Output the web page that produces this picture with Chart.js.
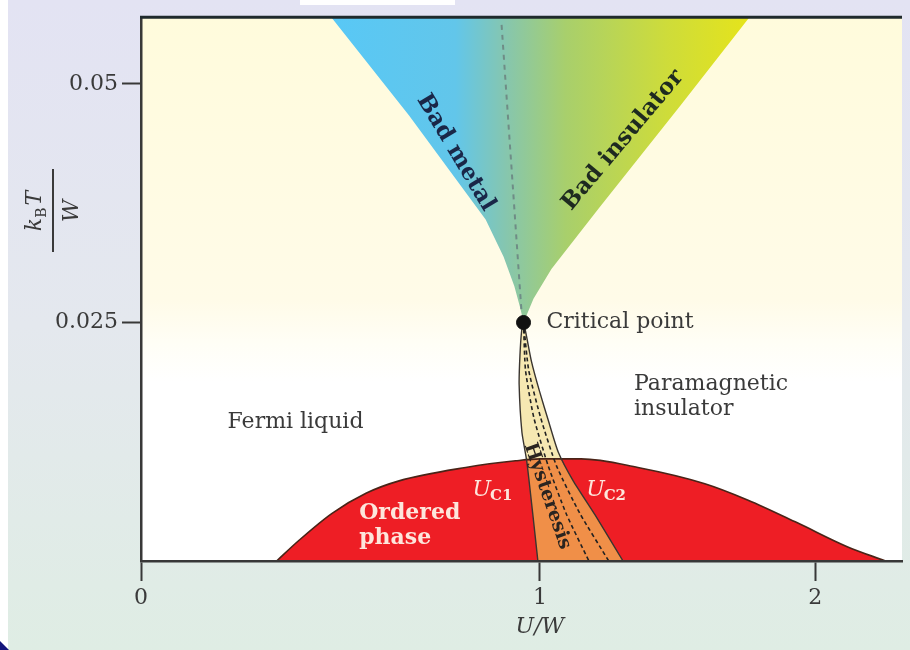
<!DOCTYPE html>
<html><head><meta charset="utf-8">
<script src="https://cdn.jsdelivr.net/npm/chart.js@4.4.1/dist/chart.umd.min.js"></script>
<style>html,body{margin:0;padding:0;background:#fff;}#wrap{width:910px;height:650px;}</style>
</head><body><div id="wrap"><canvas id="c" width="910" height="650"></canvas></div>
<script>
// ---------- DATA (U/W , kBT/W) ----------
const xTickValues = [0, 1, 2];
const xTickLabels = ['0', '1', '2'];
const yTickValues = [0.025, 0.05];
const yTickLabels = ['0.025', '0.05'];

// crossover fan above the critical point (left edge: top -> critical point)
const fanLeftU  = [0.477, 0.672, 0.864, 0.909, 0.936, 0.951, 0.959];
const fanLeftT  = [0.0570, 0.0467, 0.0358, 0.0319, 0.0288, 0.0265, 0.0250];
// right edge: critical point -> top
const fanRightU = [0.959, 0.984, 1.042, 1.212, 1.512, 1.761];
const fanRightT = [0.0250, 0.0275, 0.0306, 0.0369, 0.0478, 0.0570];
// dashed crossover line inside the fan
const widomU = [0.904, 0.954];
const widomT = [0.0562, 0.0261];

// critical point
const critU = [0.959];
const critT = [0.025];

// Uc1 spinodal (bottom -> critical point)
const uc1U = [0.995, 0.982, 0.967, 0.955, 0.948, 0.950, 0.954, 0.959];
const uc1T = [0.0, 0.0050, 0.0105, 0.0135, 0.0185, 0.0215, 0.0240, 0.0250];
// Uc2 spinodal (critical point -> bottom)
const uc2U = [0.959, 0.979, 0.999, 1.031, 1.067, 1.121, 1.201, 1.302];
const uc2T = [0.0250, 0.0209, 0.0178, 0.0147, 0.0114, 0.0084, 0.0048, 0.0];
// dashed lines inside the hysteresis band
const dashAU = [0.959, 0.964, 0.985, 1.030, 1.095, 1.178];
const dashAT = [0.025, 0.020, 0.015, 0.010, 0.005, 0.0];
const dashBU = [0.959, 0.972, 1.003, 1.060, 1.145, 1.250];
const dashBT = [0.025, 0.020, 0.015, 0.010, 0.005, 0.0];

// ordered phase dome
const domeU = [0.340, 0.397, 0.479, 0.564, 0.647, 0.814, 0.939, 1.000, 1.150, 1.356, 1.599, 1.754, 1.935, 2.116, 2.255];
const domeT = [0.0, 0.0022, 0.0050, 0.0071, 0.0084, 0.0098, 0.0105, 0.0107, 0.0107, 0.0098, 0.0081, 0.0064, 0.0040, 0.0015, 0.0];

// overlap of hysteresis band with ordered phase
const overlapU = [0.967, 0.982, 0.995, 1.302, 1.201, 1.121, 1.075, 1.000];
const overlapT = [0.0105, 0.0050, 0.0, 0.0, 0.0048, 0.0084, 0.0107, 0.0107];

// ---------- piecewise x scale (schematic axis: 0-1 wider than 1-2) ----------
const X_BREAK = 1;
const X_RATIO = 276.5 / 400.5;
class PiecewiseScale extends Chart.LinearScale {
  _warp(v) { return v <= X_BREAK ? v : X_BREAK + (v - X_BREAK) * X_RATIO; }
  _unwarp(w) { return w <= X_BREAK ? w : X_BREAK + (w - X_BREAK) / X_RATIO; }
  getPixelForValue(v) {
    const a = this._warp(this.min), b = this._warp(this.max);
    return this.getPixelForDecimal((this._warp(v) - a) / (b - a));
  }
  getValueForPixel(p) {
    const a = this._warp(this.min), b = this._warp(this.max);
    return this._unwarp(a + this.getDecimalForPixel(p) * (b - a));
  }
}
PiecewiseScale.id = 'piecewise';
PiecewiseScale.defaults = Chart.LinearScale.defaults;
Chart.register(PiecewiseScale);

const pts = (us, ts) => us.map((u, i) => ({ x: u, y: ts[i] }));

const SERIF = '"DejaVu Serif", "Liberation Serif", serif';
const TXT = '#3a3a3a';

const textLabels = [
  { text: 'Critical point', u: 1.024, t: 0.0250, font: '22px ' + SERIF, color: TXT },
  { text: 'Fermi liquid', u: 0.217, t: 0.0145, font: '22px ' + SERIF, color: TXT },
  { text: 'Paramagnetic', u: 1.342, t: 0.0185, font: '22px ' + SERIF, color: TXT },
  { text: 'insulator', u: 1.342, t: 0.0159, font: '22px ' + SERIF, color: TXT },
  { text: 'Ordered', u: 0.547, t: 0.0050, font: 'bold 22px ' + SERIF, color: '#fde6dc' },
  { text: 'phase', u: 0.547, t: 0.0024, font: 'bold 22px ' + SERIF, color: '#fde6dc' },
  { text: 'Bad metal', u: 0.789, t: 0.0428, rot: 59, align: 'center', font: 'bold 23px ' + SERIF, color: '#1a2748' },
  { text: 'Bad insulator', u: 1.302, t: 0.0441, rot: -50, align: 'center', font: 'bold 23px ' + SERIF, color: '#1e2a20' },
  { text: 'Hysteresis', u: 1.027, t: 0.0068, rot: 71, align: 'center', font: 'bold 19px ' + SERIF, color: '#2a2420' }
];
const subLabels = [
  { main: 'U', sub: 'C1', u: 0.831, t: 0.0076 },
  { main: 'U', sub: 'C2', u: 1.168, t: 0.0076 }
];

function fanGradient(context) {
  const chart = context.chart;
  const { ctx, chartArea, scales } = chart;
  if (!chartArea || !scales.x) return 'rgba(0,0,0,0)';
  const x0 = scales.x.getPixelForValue(0.47), x1 = scales.x.getPixelForValue(1.77);
  const g = ctx.createLinearGradient(x0, 0, x1, 0);
  g.addColorStop(0, '#58c8f6');
  g.addColorStop(0.3, '#62c6ea');
  g.addColorStop(0.42, '#86c6ae');
  g.addColorStop(0.56, '#a8cf6c');
  g.addColorStop(0.8, '#cedc3a');
  g.addColorStop(1, '#e6e41a');
  return g;
}

const bgPlugin = {
  id: 'bg',
  beforeDraw(chart) {
    const { ctx, width, height, chartArea: a } = chart;
    ctx.save();
    const g = ctx.createLinearGradient(0, 0, 0, height);
    g.addColorStop(0, '#e3e3f3');
    g.addColorStop(0.5, '#e4e8ee');
    g.addColorStop(1, '#dfede4');
    ctx.fillStyle = g;
    ctx.fillRect(0, 0, width, height);
    ctx.fillStyle = '#ffffff';
    ctx.fillRect(0, 0, 8, height);
    ctx.fillRect(300, 0, 155, 5);
    ctx.fillStyle = '#12157a';
    ctx.beginPath(); ctx.moveTo(0, 641); ctx.lineTo(9, 650); ctx.lineTo(0, 650); ctx.closePath(); ctx.fill();
    const pg = ctx.createLinearGradient(0, a.top, 0, a.bottom);
    pg.addColorStop(0, '#fffbdc');
    pg.addColorStop(0.52, '#fffbe8');
    pg.addColorStop(0.6, '#fffef6');
    pg.addColorStop(0.67, '#ffffff');
    pg.addColorStop(1, '#ffffff');
    ctx.fillStyle = pg;
    ctx.fillRect(a.left, a.top, a.right - a.left, a.bottom - a.top);
    ctx.restore();
  },
  afterDraw(chart) {
    const { ctx, chartArea: a } = chart;
    ctx.save();
    ctx.strokeStyle = '#1f2a2c';
    ctx.lineWidth = 3;
    ctx.beginPath(); ctx.moveTo(a.left - 1, a.top); ctx.lineTo(a.right, a.top); ctx.stroke();
    // y axis title  kBT / W
    ctx.translate(53, 211);
    ctx.rotate(-Math.PI / 2);
    ctx.fillStyle = TXT; ctx.strokeStyle = TXT;
    ctx.lineWidth = 2;
    ctx.beginPath(); ctx.moveTo(-41, 0); ctx.lineTo(42, 0); ctx.stroke();
    ctx.textBaseline = 'alphabetic';
    const fI = 'italic 22px ' + SERIF, fS = '14px ' + SERIF;
    ctx.font = fI; const wk = ctx.measureText('k').width; const wT = ctx.measureText('T').width;
    ctx.font = fS; const wB = ctx.measureText('B').width;
    const tot = wk + wB + wT + 2;
    let x0 = -tot / 2;
    ctx.textAlign = 'left';
    ctx.font = fI; ctx.fillText('k', x0, -12);
    ctx.font = fS; ctx.fillText('B', x0 + wk, -7);
    ctx.font = fI; ctx.fillText('T', x0 + wk + wB + 2, -12);
    ctx.textAlign = 'center';
    ctx.fillText('W', 0, 25);
    ctx.restore();
    // x axis title
    ctx.save();
    ctx.font = 'italic 22px ' + SERIF;
    ctx.fillStyle = TXT; ctx.textAlign = 'center'; ctx.textBaseline = 'middle';
    ctx.fillText('U/W', chart.scales.x.getPixelForValue(1), 627);
    ctx.restore();
  }
};

const labelPlugin = {
  id: 'labels',
  afterDatasetsDraw(chart) {
    const { ctx, scales: { x, y } } = chart;
    textLabels.forEach(l => {
      ctx.save();
      ctx.translate(x.getPixelForValue(l.u), y.getPixelForValue(l.t));
      ctx.rotate((l.rot || 0) * Math.PI / 180);
      ctx.font = l.font; ctx.fillStyle = l.color;
      ctx.textAlign = l.align || 'left'; ctx.textBaseline = 'middle';
      ctx.fillText(l.text, 0, 0);
      ctx.restore();
    });
    subLabels.forEach(l => {
      const px = x.getPixelForValue(l.u), py = y.getPixelForValue(l.t);
      ctx.save();
      ctx.fillStyle = '#fde6dc';
      ctx.textBaseline = 'alphabetic'; ctx.textAlign = 'left';
      ctx.font = 'italic 22px ' + SERIF;
      ctx.fillText(l.main, px, py + 8);
      const w = ctx.measureText(l.main).width;
      ctx.font = 'bold 15px ' + SERIF;
      ctx.fillText(l.sub, px + w - 1, py + 12);
      ctx.restore();
    });
  }
};

const lineBase = { showLine: true, pointRadius: 0, pointHoverRadius: 0 };
const bandU = uc1U.concat(uc2U.slice(1));
const bandT = uc1T.concat(uc2T.slice(1));

new Chart(document.getElementById('c'), {
  type: 'scatter',
  data: {
    datasets: [
      Object.assign({}, lineBase, { label: 'Bad metal / bad insulator', data: pts(fanLeftU.concat(fanRightU.slice(1)), fanLeftT.concat(fanRightT.slice(1))), fill: 'shape', backgroundColor: fanGradient, borderColor: 'rgba(0,0,0,0)', borderWidth: 0, order: 10 }),
      Object.assign({}, lineBase, { label: 'Crossover', data: pts(widomU, widomT), borderColor: '#6f8c86', borderWidth: 2, borderDash: [5, 5], fill: false, order: 9 }),
      Object.assign({}, lineBase, { label: 'Hysteresis', data: pts(bandU, bandT), fill: 'shape', backgroundColor: '#f6e8b2', borderColor: 'rgba(0,0,0,0)', borderWidth: 0, tension: 0.2, order: 8 }),
      Object.assign({}, lineBase, { label: 'Ordered phase', data: pts(domeU, domeT), fill: 'origin', backgroundColor: '#ee1e25', borderColor: 'rgba(0,0,0,0)', borderWidth: 0, cubicInterpolationMode: 'monotone', order: 7 }),
      Object.assign({}, lineBase, { label: 'Overlap', data: pts(overlapU, overlapT), fill: 'shape', backgroundColor: '#f08f48', borderColor: 'rgba(0,0,0,0)', borderWidth: 0, order: 6 }),
      Object.assign({}, lineBase, { label: 'Dome outline', data: pts(domeU, domeT), fill: false, borderColor: '#4a2418', borderWidth: 1.6, cubicInterpolationMode: 'monotone', order: 5 }),
      Object.assign({}, lineBase, { label: 'Uc1/Uc2', data: pts(bandU, bandT), fill: false, borderColor: '#3a3530', borderWidth: 1.4, tension: 0.2, order: 4 }),
      Object.assign({}, lineBase, { label: 'dash A', data: pts(dashAU, dashAT), fill: false, borderColor: '#222', borderWidth: 1.6, borderDash: [4, 3], tension: 0.2, order: 3 }),
      Object.assign({}, lineBase, { label: 'dash B', data: pts(dashBU, dashBT), fill: false, borderColor: '#222', borderWidth: 1.6, borderDash: [4, 3], tension: 0.2, order: 3 }),
      { label: 'Critical point', data: pts(critU, critT), showLine: false, pointRadius: 7, pointHoverRadius: 7, pointBackgroundColor: '#111', pointBorderColor: '#111', order: 1 }
    ]
  },
  options: {
    responsive: false,
    animation: false,
    events: [],
    layout: { padding: { top: 14, right: 5, left: 0, bottom: 0 } },
    plugins: { legend: { display: false }, tooltip: { enabled: false } },
    scales: {
      x: {
        type: 'piecewise', min: 0, max: 2.315,
        border: { display: true, color: '#383838', width: 2.5, z: 1 },
        grid: { display: true, drawOnChartArea: false, drawTicks: true, tickLength: 20, tickWidth: 2, tickColor: '#383838' },
        ticks: { font: { family: 'DejaVu Serif', size: 22 }, color: TXT, padding: 4, maxRotation: 0, autoSkip: false,
          callback: (v) => xTickLabels[xTickValues.indexOf(v)] },
        afterBuildTicks: (s) => { s.ticks = xTickValues.map(v => ({ value: v })); },
        afterFit: (s) => { s.height = 89; }
      },
      y: {
        type: 'linear', min: 0, max: 0.057,
        border: { display: true, color: '#383838', width: 2.5, z: 1 },
        grid: { display: true, drawOnChartArea: false, drawTicks: true, tickLength: 19, tickWidth: 2, tickColor: '#383838' },
        ticks: { font: { family: 'DejaVu Serif', size: 22 }, color: TXT, padding: 4, autoSkip: false,
          callback: (v) => yTickLabels[yTickValues.indexOf(v)] },
        afterBuildTicks: (s) => { s.ticks = yTickValues.map(v => ({ value: v })); },
        afterFit: (s) => { s.width = 141; }
      }
    }
  },
  plugins: [bgPlugin, labelPlugin]
});
</script></body></html>
